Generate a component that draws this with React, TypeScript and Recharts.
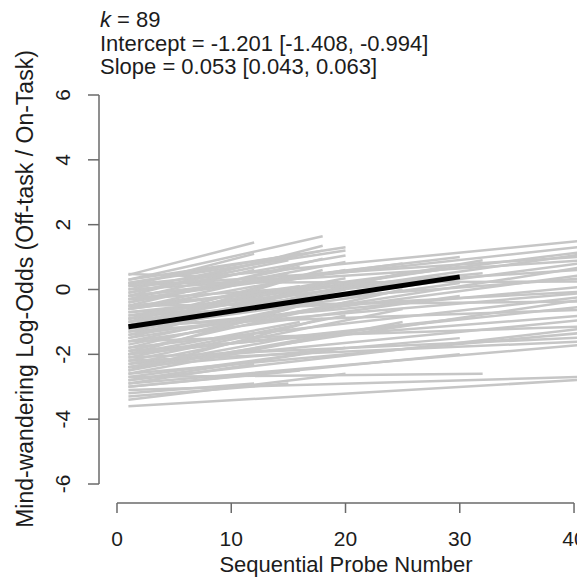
import React from 'react';
import { LineChart, Line, XAxis, YAxis, ReferenceLine } from 'recharts';

// per-subject fitted lines: value at probe 1, last probe, value at last probe
const startValues = [
  0.15, -0.2, -0.6, 0.1, -1.0, -0.3, -1.4, 0.2, -1.2, -0.8,
  -1.8, -0.5, -2.0, -1.1, -2.3, -1.6, -2.6, -2.1, -2.9, -3.1,
  -3.6, -0.9, -1.5, -0.7, -1.3, -2.4, -1.9, -2.8, 0.0, -2.2,
  0.3, -0.2, 0.0, -0.5, -1.0, -1.5, -2.0, -2.5,
  0.45, 0.1, -0.3, -1.1, -2.2, -2.9, -3.2,
  0.48,
  0.3, 0.2, -0.1, -0.4, -0.6, -0.9, -1.3, -1.7, -2.1, -2.5, -2.8, -3.4,
  -0.2, -0.8, -1.2, -1.6, -2.0, -2.4, -3.0,
  -2.7, -1.0, -0.5,
  -0.3, -1.9, -2.3, -1.4, -0.7, -2.6,
  -0.1, -0.6, -1.2, -1.8, -2.4, -3.3,
  0.2, -0.4, -0.9, -1.6, -2.0, -2.7, -3.0, -1.2, -0.6,
];
const endProbes = [
  41, 41, 41, 41, 41, 41, 41, 41, 41, 41,
  41, 41, 41, 41, 41, 41, 41, 41, 41, 41,
  41, 41, 41, 41, 41, 41, 41, 41, 41, 41,
  18, 18, 18, 18, 18, 18, 18, 18,
  12, 12, 12, 12, 12, 12, 12,
  8,
  20, 20, 20, 20, 20, 20, 20, 20, 20, 20, 20, 20,
  30, 30, 30, 30, 30, 30, 30,
  32, 32, 32,
  25, 25, 25, 25, 25, 25,
  15, 15, 15, 15, 15, 15,
  16, 16, 16, 16, 16, 16, 16, 16, 16,
];
const endValues = [
  1.51, 1.33, 1.17, 1.02, 0.83, 0.62, 0.46, 0.25, 0.09, -0.06,
  -0.22, -0.37, -0.52, -0.62, -0.93, -1.14, -1.33, -1.48, -1.7, -2.69,
  -2.78, 1.1, 0.7, 0.35, -0.1, -0.3, -0.8, -1.2, 0.9, -1.6,
  1.64, 1.35, 1.2, 0.95, 0.6, 0.2, -0.3, -0.9,
  1.45, 1.1, 0.6, -0.2, -1.4, -2.3, -2.9,
  0.4,
  1.3, 1.2, 1.05, 0.85, 0.6, 0.35, 0.0, -0.4, -0.8, -1.3, -1.8, -2.6,
  1.0, 0.7, 0.2, -0.2, -0.9, -1.5, -2.0,
  -2.6, 0.9, 0.5,
  0.8, 0.0, -0.6, 0.5, 0.2, -1.0,
  0.9, 0.5, -0.2, -0.6, -1.5, -2.9,
  1.1, 0.7, 0.1, -0.5, -1.0, -2.0, -2.5, 0.4, 0.1,
];

// overall fixed-effect line
const fixedProbes = [1, 30];
const fixedValues = [-1.15, 0.39];

const xTicks = [0, 10, 20, 30, 40];
const yTicks = [-6, -4, -2, 0, 2, 4, 6];

const subjects = startValues.map((s, i) => [
  { x: 1, y: s },
  { x: endProbes[i], y: endValues[i] },
]);
const fixedLine = fixedProbes.map((p, i) => ({ x: p, y: fixedValues[i] }));

const FONT = '"Liberation Sans", Arial, sans-serif';
const TEXT = '#1c1c1c';
const AXIS = '#6a6a6a';

const xMin = -1.575;
const xMax = 40.96;
const yMin = -6.586;

const YTick = (props: any) => {
  const { x, y, payload } = props;
  return (
    <text
      x={x}
      y={y}
      transform={`rotate(-90 ${x} ${y})`}
      textAnchor="middle"
      fill={TEXT}
      fontSize={21}
      fontFamily={FONT}
    >
      {payload.value}
    </text>
  );
};

export default function App() {
  return (
    <div style={{ position: 'relative', width: 577, height: 573 }}>
      <div
        style={{
          position: 'absolute',
          left: 92,
          top: 0,
          fontFamily: FONT,
          fontSize: 22,
          lineHeight: '23.5px',
          color: TEXT,
          whiteSpace: 'nowrap',
        }}
      >
        <div><i>k</i> = 89</div>
        <div>Intercept = -1.201 [-1.408, -0.994]</div>
        <div>Slope = 0.053 [0.043, 0.063]</div>
      </div>
      <LineChart width={577} height={573} margin={{ top: 87, right: 0, bottom: 0, left: 0 }}>
        <XAxis
          type="number"
          dataKey="x"
          domain={[xMin, xMax]}
          allowDataOverflow
          ticks={xTicks}
          interval={0}
          axisLine={false}
          tickLine={{ stroke: AXIS, strokeWidth: 1.5 }}
          tickSize={10}
          tickMargin={18}
          height={78}
          tick={{ fill: TEXT, fontSize: 21, fontFamily: FONT }}
          label={{
            content: () => (
              <text x={338} y={564} textAnchor="middle" fill={TEXT} fontSize={22} fontFamily={FONT}>
                Sequential Probe Number
              </text>
            ),
          }}
        />
        <YAxis
          type="number"
          dataKey="y"
          domain={[yMin, 6]}
          allowDataOverflow
          ticks={yTicks}
          interval={0}
          axisLine={false}
          tickLine={{ stroke: AXIS, strokeWidth: 1.5 }}
          tickSize={11}
          tickMargin={18}
          width={91}
          tick={<YTick />}
          label={{
            content: () => (
              <text
                x={25}
                y={281}
                transform="rotate(-90 25 281)"
                textAnchor="middle"
                fill={TEXT}
                fontSize={23}
                fontFamily={FONT}
              >
                Mind-wandering Log-Odds (Off-task / On-Task)
              </text>
            ),
          }}
        />
        <ReferenceLine
          segment={[{ x: 0, y: yMin }, { x: 40, y: yMin }]}
          stroke={AXIS}
          strokeWidth={1.5}
          ifOverflow="visible"
        />
        <ReferenceLine
          segment={[{ x: xMin, y: -6 }, { x: xMin, y: 6 }]}
          stroke={AXIS}
          strokeWidth={1.5}
          ifOverflow="visible"
        />
        {subjects.map((d, i) => (
          <Line
            key={i}
            data={d}
            dataKey="y"
            stroke="#c6c6c6"
            strokeWidth={2.5}
            dot={false}
            isAnimationActive={false}
          />
        ))}
        <Line
          data={fixedLine}
          dataKey="y"
          stroke="#000"
          strokeWidth={5}
          dot={false}
          isAnimationActive={false}
        />
      </LineChart>
    </div>
  );
}
